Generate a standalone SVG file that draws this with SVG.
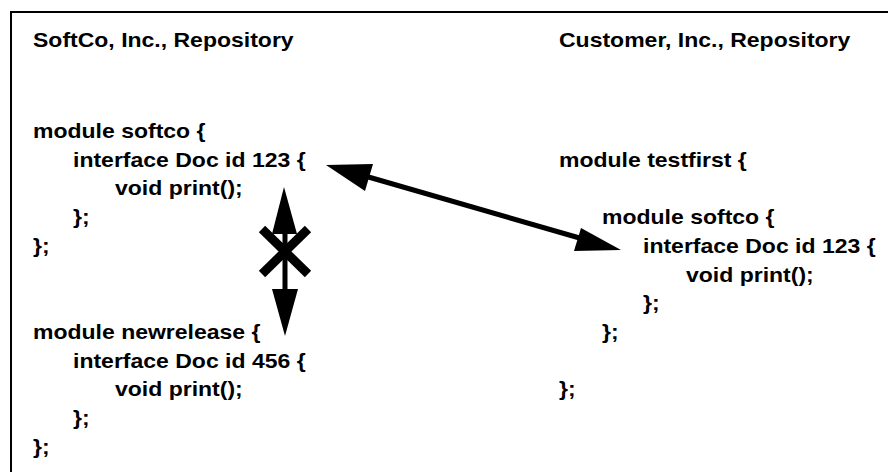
<svg xmlns="http://www.w3.org/2000/svg" width="888" height="472" viewBox="0 0 888 472">
<style>
.t{font-family:"Liberation Sans",Arial,Helvetica,sans-serif;font-weight:bold;font-size:20px;fill:#000}
.shaft{stroke:#000;fill:none}
.head{fill:#000;stroke:none}
</style>
<rect x="0" y="0" width="888" height="472" fill="#fff"/>
<rect id="frame" x="11" y="12" width="900" height="500" fill="none" stroke="#000" stroke-width="2"/>
<g id="softco-title">
<text class="t" transform="translate(33 47) scale(1.15 1)">SoftCo, Inc., Repository</text>
</g>
<g id="customer-title">
<text class="t" transform="translate(559 47) scale(1.15 1)">Customer, Inc., Repository</text>
</g>
<g id="softco-module">
<text class="t" transform="translate(33 138) scale(1.15 1)">module softco {</text>
<text class="t" transform="translate(73 166.7) scale(1.15 1)">interface Doc id 123 {</text>
<text class="t" transform="translate(115 195.4) scale(1.15 1)">void print();</text>
<text class="t" transform="translate(73 224) scale(1.15 1)">};</text>
<text class="t" transform="translate(33 252.8) scale(1.15 1)">};</text>
</g>
<g id="newrelease-module">
<text class="t" transform="translate(33 338.9) scale(1.15 1)">module newrelease {</text>
<text class="t" transform="translate(73 367.6) scale(1.15 1)">interface Doc id 456 {</text>
<text class="t" transform="translate(115 396.3) scale(1.15 1)">void print();</text>
<text class="t" transform="translate(73 425) scale(1.15 1)">};</text>
<text class="t" transform="translate(33 453.7) scale(1.15 1)">};</text>
</g>
<g id="testfirst-module">
<text class="t" transform="translate(559 166.7) scale(1.15 1)">module testfirst {</text>
<text class="t" transform="translate(602 224) scale(1.15 1)">module softco {</text>
<text class="t" transform="translate(643 252.8) scale(1.15 1)">interface Doc id 123 {</text>
<text class="t" transform="translate(686 281.5) scale(1.15 1)">void print();</text>
<text class="t" transform="translate(643 310) scale(1.15 1)">};</text>
<text class="t" transform="translate(602 338.9) scale(1.15 1)">};</text>
<text class="t" transform="translate(559 396.3) scale(1.15 1)">};</text>
</g>
<g id="connectors">
<g id="link-softco-testfirst">
<line class="shaft" x1="365" y1="176" x2="583" y2="239" stroke-width="5"/>
<polygon class="head" points="326,165 373,164 365,191"/>
<polygon class="head" points="621,250 574,251 581,228"/>
</g>
<g id="blocked-softco-newrelease">
<line class="shaft" x1="285" y1="230" x2="285" y2="292" stroke-width="5"/>
<polygon class="head" points="284,187 272,234 297,234"/>
<polygon class="head" points="285,336 272,289 298,289"/>
<line class="shaft" x1="262" y1="229" x2="308" y2="274" stroke-width="9"/>
<line class="shaft" x1="308" y1="229" x2="262" y2="274" stroke-width="9"/>
</g>
</g>
</svg>
